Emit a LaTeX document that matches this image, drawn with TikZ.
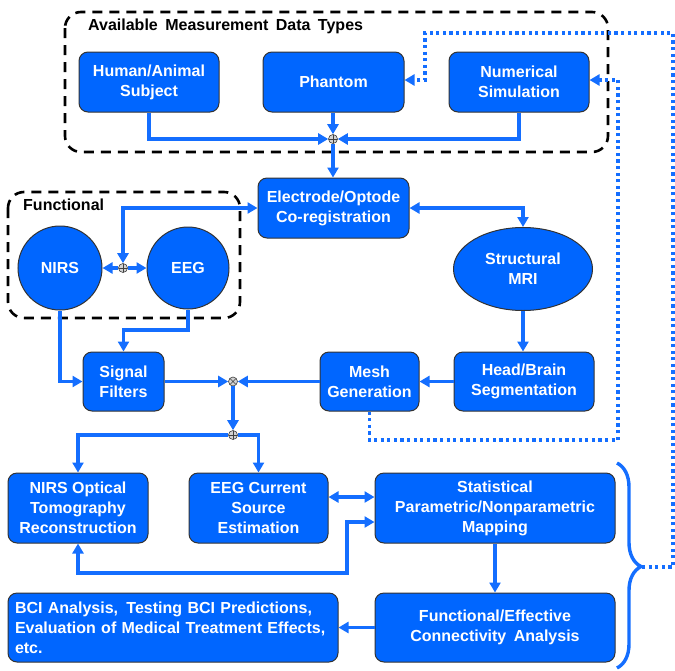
\documentclass[tikz,border=0pt]{standalone}
\usepackage{fontspec}
\setmainfont{Liberation Sans}
\usetikzlibrary{arrows.meta,decorations.pathreplacing,shapes.geometric}
\definecolor{myblue}{RGB}{0,102,255}
\definecolor{lineblue}{RGB}{20,110,255}
\begin{document}
\begin{tikzpicture}[x=1pt,y=-1pt,
  box/.style={rectangle, rounded corners=9pt, fill=myblue, draw=black!80, line width=1pt,
    text=white, font=\fontsize{16}{20}\selectfont\bfseries, align=center, inner sep=0pt},
  circ/.style={circle, fill=myblue, draw=black!80, line width=1pt,
    text=white, font=\fontsize{16}{20}\selectfont\bfseries, inner sep=0pt},
  ell/.style={ellipse, fill=myblue, draw=black!80, line width=1pt,
    text=white, font=\fontsize{16}{20}\selectfont\bfseries, align=center, inner sep=0pt},
  arr/.style={draw=lineblue, line width=3.4pt, -{Triangle[length=10pt,width=11pt]}},
  arrtwo/.style={draw=lineblue, line width=3.4pt, {Triangle[length=10pt,width=11pt]}-{Triangle[length=10pt,width=11pt]}},
  dotarr/.style={draw=lineblue, line width=3.2pt, dash pattern=on 3.2pt off 3.4pt, -{Triangle[length=10pt,width=11pt]}},
  dashbox/.style={draw=black, line width=2.6pt, dash pattern=on 10pt off 7pt, rounded corners=16pt},
  ttl/.style={font=\fontsize{16}{20}\selectfont\bfseries, text=black, inner sep=0pt},
  jplus/.style={circle, draw=black!75, fill=gray!35, line width=0.6pt, minimum size=9pt, inner sep=0pt,
    path picture={\draw[black!75,line width=0.6pt] (path picture bounding box.north) -- (path picture bounding box.south)
      (path picture bounding box.west) -- (path picture bounding box.east);}},
  jtimes/.style={circle, draw=black!75, fill=gray!35, line width=0.6pt, minimum size=9pt, inner sep=0pt,
    path picture={\draw[black!75,line width=0.6pt] (path picture bounding box.north west) -- (path picture bounding box.south east)
      (path picture bounding box.south west) -- (path picture bounding box.north east);}}
]
\useasboundingbox (0,0) rectangle (675,670);

% dashed groups
\draw[dashbox] (65,12) rectangle (608,152);
\node[ttl, anchor=base west] (ttl1) at (88,30) {Available\hspace{3pt} Measurement\hspace{3pt} Data\hspace{3pt} Types};
\draw[dashbox] (8,192) rectangle (240,318);
\node[ttl, anchor=base west] (ttl2) at (23,210) {Functional};

% nodes
\node[box, minimum width=140pt, minimum height=60pt] (human) at (149,82) {Human/Animal\\Subject};
\node[box, minimum width=141pt, minimum height=60pt] (phantom) at (333.5,82) {Phantom};
\node[box, minimum width=140pt, minimum height=60pt] (numerical) at (519,82) {Numerical\\Simulation};
\node[jplus] (j1) at (333,139) {};
\node[box, minimum width=151pt, minimum height=60pt] (electrode) at (333.5,208) {Electrode/Optode\\Co-registration};
\node[circ, minimum size=84pt] (nirs) at (60,268) {NIRS};
\node[circ, minimum size=82pt] (eeg) at (188,268) {EEG};
\node[jplus] (j2) at (123,268) {};
\node[ell, minimum width=139pt, minimum height=83pt] (mri) at (523,269) {Structural\\MRI};
\node[box, minimum width=140pt, minimum height=59pt] (head) at (524,381.5) {Head/Brain\\Segmentation};
\node[box, minimum width=99pt, minimum height=59pt] (mesh) at (369.5,381.5) {Mesh\\Generation};
\node[box, minimum width=81pt, minimum height=59pt] (signal) at (123.5,381.5) {Signal\\Filters};
\node[jtimes] (j3) at (233,381.5) {};
\node[jplus] (j4) at (233,435) {};
\node[box, minimum width=140pt, minimum height=70pt] (nirsopt) at (78,508) {NIRS Optical\\Tomography\\Reconstruction};
\node[box, minimum width=139pt, minimum height=70pt] (eegcur) at (258.5,508) {EEG Current\\Source\\Estimation};
\node[box, minimum width=240pt, minimum height=70pt] (stat) at (495,508) {Statistical\\Parametric/Nonparametric\\Mapping};
\node[box, minimum width=240pt, minimum height=69pt] (func) at (495,627.5) {Functional/Effective\\Connectivity\hspace{3pt} Analysis};
\node[box, minimum width=330pt, minimum height=69pt, text width=316pt, align=left] (bci) at (173,627.5)
  {BCI Analysis,\hspace{3pt} Testing BCI Predictions,\\Evaluation of Medical Treatment Effects,\\etc.};

% coordinates
\coordinate (c1) at (0,497);
\coordinate (b1) at (347,573);
\coordinate (b2) at (347,522);
\coordinate (d1) at (618,440);
\coordinate (d2) at (618,80);
\coordinate (t0) at (642,567);
\coordinate (t1) at (673,567);
\coordinate (t2) at (673,33);
\coordinate (t3) at (425,33);
\coordinate (t4) at (425,80);
\coordinate (e1) at (188,330);
\coordinate (br1) at (617,463);
\coordinate (br2) at (617,668);

% connectors
\draw[arr] (human.south) |- (j1.west);
\draw[arr] (phantom.south -| j1) -- (j1.north);
\draw[arr] (numerical.south) |- (j1.east);
\draw[arr] (j1.south) -- (electrode.north -| j1);
\draw[arr] (j2.west) -- (nirs.east);
\draw[arr] (j2.east) -- (eeg.west);
\draw[arrtwo] (j2.north) |- (electrode.west);
\draw[arrtwo] (electrode.east) -| (mri.north);
\draw[arr] (mri.south) -- (mri.south |- head.north);
\draw[arr] (head.west) -- (mesh.east);
\draw[arr] (signal.east) -- (j3.west);
\draw[arr] (mesh.west) -- (j3.east);
\draw[arr] (nirs.south) |- (signal.west);
\draw[arr] (eeg.south) -- (e1) -| (signal.north);
\draw[arr] (j3.south) -- (j4.north);
\draw[arr] (j4.west) -| (nirsopt.north);
\draw[arr] (j4.east) -| (eegcur.north);
\draw[arrtwo] (eegcur.east |- c1) -- (stat.west |- c1);
\draw[arrtwo] (nirsopt.south) |- (b1) -- (b2) -- (stat.west |- b2);
\draw[arr] (stat.south) -- (func.north);
\draw[arr] (func.west) -- (bci.east);

% dotted feedback
\draw[dotarr] (mesh.south) |- (d1) -- (d2) -- (numerical.east |- d2);
\draw[dotarr] (t0) -- (t1) -- (t2) -- (t3) -- (t4) -- (phantom.east |- t4);

% brace
\draw[draw=lineblue, line width=3.4pt, decorate, decoration={brace, amplitude=24pt, aspect=0.505}] (br1) -- (br2);
\end{tikzpicture}
\end{document}
